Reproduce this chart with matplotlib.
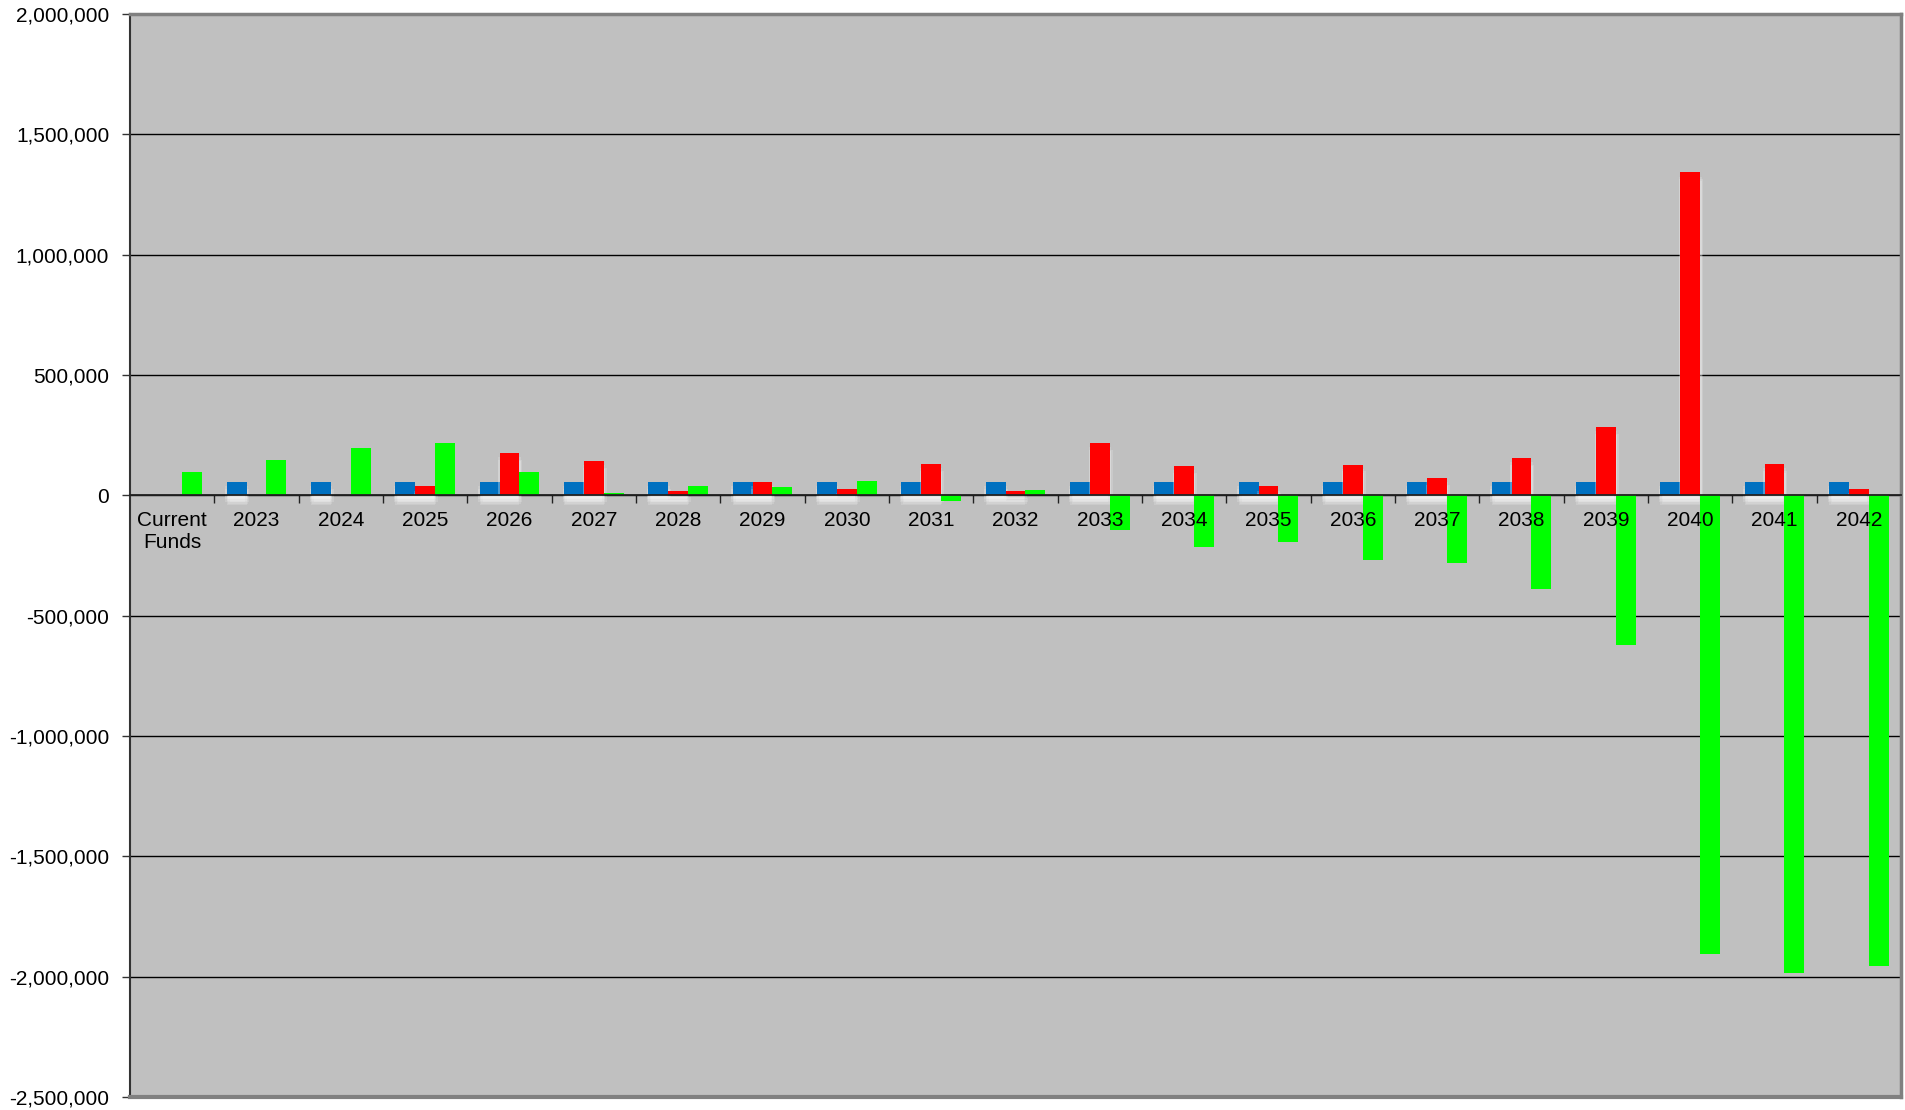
import numpy as np
import matplotlib
matplotlib.use("Agg")
import matplotlib.pyplot as plt
import matplotlib.patheffects as pe
from matplotlib.ticker import FuncFormatter

# カテゴリと系列の値
categories = ["Current\nFunds"] + [str(y) for y in range(2023, 2043)]
blue_vals = [0] + [55000] * 20
red_vals = [0, 0, 0, 37000, 176000, 144000, 20000, 55000, 25000, 131000, 17000,
            219000, 123000, 37000, 128000, 72000, 156000, 284000, 1342000, 129000, 25000]
green_vals = [97000, 145000, 195000, 216000, 97000, 8000, 40000, 35000, 60000, -25000, 24000,
              -145000, -213000, -195000, -267000, -283000, -389000, -621000, -1907000, -1984000, -1957000]
y_ticks = np.arange(-2500000, 2000001, 500000)

plt.rcParams['font.family'] = ['Liberation Sans', 'DejaVu Sans']

fig = plt.figure(figsize=(19.06, 11.10), dpi=100)
ax = fig.add_axes([0.0682, 0.0117, 0.9292, 0.9757])
ax.set_facecolor('#C0C0C0')

x = np.arange(len(categories))
w = 0.235

# 白いぼかし影（Excel風）
glow = [pe.SimplePatchShadow(offset=(dx, dy), shadow_rgbFace='white', alpha=0.16)
        for dx, dy in [(0, -2), (0, -4), (1, -6), (0, -7), (-1, -3), (1, -3), (2, -5), (-1, -5)]] + [pe.Normal()]

b1 = ax.bar(x - w, blue_vals, w, color='#0070C0', zorder=3)
b2 = ax.bar(x, red_vals, w, color='#FF0000', zorder=3)
b3 = ax.bar(x + w, green_vals, w, color='#00FF00', zorder=4)
for bars in (b1, b2):
    for r in bars:
        if r.get_height() != 0:
            r.set_path_effects(glow)

ax.set_xlim(-0.5, len(categories) - 0.5)
ax.set_ylim(-2500000, 2000000)
ax.set_yticks(y_ticks)
ax.yaxis.set_major_formatter(FuncFormatter(lambda v, p: f"{int(v):,}"))
ax.yaxis.grid(True, color='black', lw=1)
ax.set_axisbelow(True)

ax.spines['bottom'].set_position(('data', 0))
ax.spines['bottom'].set_color('#222222')
ax.spines['bottom'].set_linewidth(1.3)
ax.spines['bottom'].set_zorder(5)
ax.spines['left'].set_color('#333333')
ax.spines['left'].set_linewidth(1.5)
for s in ('top', 'right'):
    ax.spines[s].set_color('#808080')
    ax.spines[s].set_linewidth(2.5)
ax.axhline(-2500000, color='#808080', lw=3, clip_on=False, zorder=5)

# カテゴリ名は棒の上に描く
ax.set_xticks([])
ax.set_xticks(np.arange(0.5, len(categories), 1), minor=True)
ax.tick_params(axis='x', which='minor', length=6, width=1, direction='out', color='#222222')
for i, cat in enumerate(categories):
    ax.annotate(cat, (i, 0), xytext=(0, -11), textcoords='offset points',
                ha='center', va='top', fontsize=15, linespacing=1.25, zorder=10)

ax.tick_params(axis='y', length=6, width=1, labelsize=15, pad=9, color='#333333')

fig.savefig('out.png', dpi=100, facecolor='white')
